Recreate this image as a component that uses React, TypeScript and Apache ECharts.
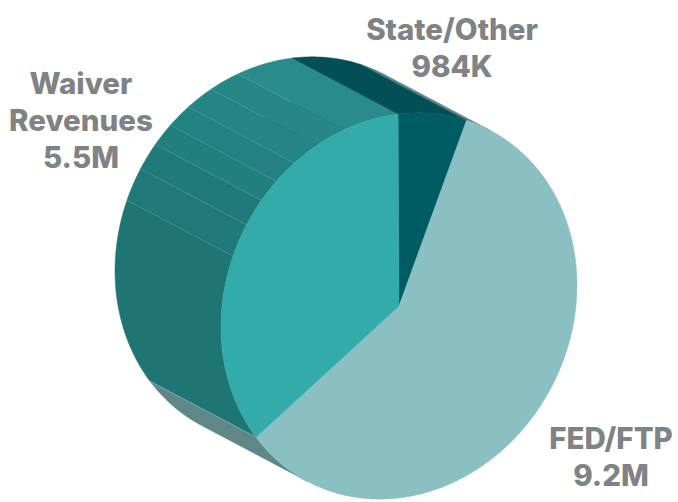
import React, { useEffect, useRef } from "react";
import * as echarts from "echarts";

// Slices, clockwise from the top
const sliceNames = ["State/Other", "FED/FTP", "Waiver Revenues"];
const sliceValues = [984, 9200, 5500];
const topColors = ["#005c63", "#8ac0c1", "#33abab"];
const sideColors = ["#024f56", "#5f8788", "#1f7474"];

// The waiver slice's side is cut into bands, shares of the slice
const waiverBandShares = [57.7, 9.9, 8.3, 7.1, 7.5, 8.6, 9.4, 17.7];
const waiverBandColors = ["#1f7474", "#207878", "#217a7a", "#237e7e", "#248181", "#258484", "#278787", "#2a8b8b"];

const labelLines = [
  { text: "State/Other", x: 452, y: 29 },
  { text: "984K", x: 452, y: 66 },
  { text: "Waiver", x: 81, y: 83 },
  { text: "Revenues", x: 81, y: 120 },
  { text: "5.5M", x: 81, y: 157 },
  { text: "FED/FTP", x: 611, y: 438 },
  { text: "9.2M", x: 611, y: 475 },
];

// Projection of the pie's disc
const CX = 399;
const CY = 306;
const RX = 178;
const RY = 192;
const SHEAR = -21;
const DX = -106;
const DY = -56;
const START = -0.3;

const total = sliceValues.reduce((a, b) => a + b, 0);
const sliceAngles: [number, number][] = [];
{
  let a = START;
  for (const v of sliceValues) {
    const span = (v / total) * 360;
    sliceAngles.push([a, a + span]);
    a += span;
  }
}

const front = (deg: number): number[] => {
  const t = (deg * Math.PI) / 180;
  return [CX + RX * Math.sin(t), CY + SHEAR * Math.sin(t) - RY * Math.cos(t)];
};
const back = (deg: number): number[] => {
  const p = front(deg);
  return [p[0] + DX, p[1] + DY];
};
const arc = (fn: (d: number) => number[], from: number, to: number): number[][] => {
  const n = Math.max(2, Math.ceil(Math.abs(to - from) * 1.5));
  const pts: number[][] = [];
  for (let i = 0; i <= n; i++) pts.push(fn(from + ((to - from) * i) / n));
  return pts;
};
const sweep = (from: number, to: number): number[][] => [...arc(front, from, to), ...arc(back, to, from)];

// Angle at which the disc's edge runs along the extrusion
const tangent = (Math.atan((((DY / DX) * RX - SHEAR) / RY)) * 180) / Math.PI;

const bandEdges: number[] = [];
{
  const [a0, a1] = sliceAngles[2];
  const sum = waiverBandShares.reduce((a, b) => a + b, 0);
  let a = a0;
  bandEdges.push(a);
  for (const s of waiverBandShares) {
    a += (s / sum) * (a1 - a0);
    bandEdges.push(a);
  }
}

const poly = (points: number[][], color: string) => ({
  type: "polygon",
  shape: { points },
  style: { fill: color, stroke: color, lineWidth: 0.5 },
});

const renderSide = (params: any) => {
  const i = params.dataIndex;
  const [a0, a1] = sliceAngles[i];
  const children: any[] = [];
  if (i === 0) {
    children.push(poly(sweep(a0, a1), sideColors[0]));
  } else if (i === 1) {
    children.push(poly(sweep(a0, tangent), sideColors[1]));
    children.push(poly(sweep(tangent + 180, a1), sideColors[1]));
  } else {
    waiverBandColors.forEach((c, k) => {
      children.push(poly(sweep(bandEdges[k], bandEdges[k + 1]), c));
    });
    bandEdges.slice(1, -1).forEach((e, k) => {
      const f = front(e);
      const b = back(e);
      const upper = k >= 5;
      children.push({
        type: "line",
        shape: { x1: b[0], y1: b[1], x2: f[0], y2: f[1] },
        style: {
          stroke: upper
            ? new echarts.graphic.LinearGradient(0, 0, 1, 1, [
                { offset: 0, color: "#559d9d" },
                { offset: 0.5, color: "#559d9d" },
                { offset: 0.51, color: "#15686c" },
                { offset: 1, color: "#15686c" },
              ])
            : "#559d9d",
          lineWidth: 0.5,
        },
      });
    });
    const f = front(a0);
    const b = back(a0);
    children.push({
      type: "line",
      shape: { x1: b[0], y1: b[1], x2: f[0], y2: f[1] },
      style: { stroke: "#a9cccc", lineWidth: 0.6 },
    });
  }
  return { type: "group", children };
};

const renderTop = (params: any) => {
  const [a0, a1] = sliceAngles[params.dataIndex];
  return poly([[CX, CY], ...arc(front, a0, a1)], topColors[params.dataIndex]);
};

export default function App() {
  const ref = useRef<HTMLDivElement>(null);
  useEffect(() => {
    document.body.style.margin = "0";
    const chart = echarts.init(ref.current!, null, { renderer: "svg" });
    const data = sliceNames.map((name, i) => ({ name, value: sliceValues[i] }));
    chart.setOption({
      animation: false,
      backgroundColor: "#ffffff",
      series: [
        // far-side faces first, so that the discs cover them
        { type: "custom", coordinateSystem: "none", silent: true, z: 1, data: [data[1], data[2], data[0]], renderItem: (p: any) => renderSide({ dataIndex: [1, 2, 0][p.dataIndex] }) },
        { type: "custom", coordinateSystem: "none", silent: true, z: 2, data, renderItem: renderTop },
      ],
      graphic: labelLines.map((l) => ({
        type: "text",
        x: l.x,
        y: l.y,
        z: 5,
        style: {
          text: l.text,
          fill: "#808285",
          font: "800 29.5px Inter, 'Open Sans', sans-serif",
          textAlign: "center",
          textVerticalAlign: "middle",
        },
      })),
    });
    return () => chart.dispose();
  }, []);
  return <div ref={ref} style={{ width: 678, height: 502 }} />;
}
